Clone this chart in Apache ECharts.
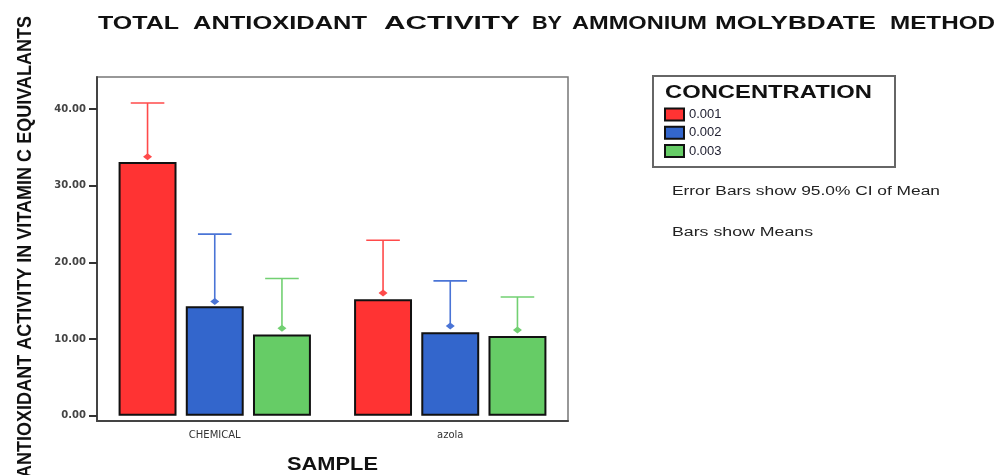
<!DOCTYPE html>
<html>
<head>
<meta charset="utf-8">
<script src="https://cdn.jsdelivr.net/npm/echarts@6/dist/echarts.min.js"></script>
<style>html,body{margin:0;padding:0;background:#fff}#c{width:999px;height:475px}</style>
</head>
<body>
<div id="c"></div>
<script>
// ---- data ----
const categories = ['CHEMICAL', 'azola'];
const concentrations = ['0.001', '0.002', '0.003'];
const barMean001 = [33.1, 15.2];
const barMean002 = [14.3, 10.9];
const barMean003 = [10.6, 10.4];
const meanDot001 = [33.8, 16.0];
const meanDot002 = [14.9, 11.7];
const meanDot003 = [11.4, 11.2];
const ciUpper001 = [40.8, 22.9];
const ciUpper002 = [23.7, 17.6];
const ciUpper003 = [17.9, 15.5];
const yTickValues = [0, 10, 20, 30, 40];
const titleWords = ['TOTAL', 'ANTIOXIDANT', 'ACTIVITY', 'BY', 'AMMONIUM', 'MOLYBDATE', 'METHOD'];
const yAxisTitle = 'ANTIOXIDANT ACTIVITY IN VITAMIN C EQUIVALANTS';
const xAxisTitle = 'SAMPLE';
const legendTitle = 'CONCENTRATION';
const noteLines = ['Error Bars show 95.0% CI of Mean', 'Bars show Means'];

// ---- style ----
const barColors = ['#FF3333', '#3366CC', '#66CC66'];
const errColors = ['#FF4A4A', '#4A74D6', '#72D072'];
const barWidthPct = 0.246;
const barGapPct = 0.16;

const barMeans = [barMean001, barMean002, barMean003];
const meanDots = [meanDot001, meanDot002, meanDot003];
const ciUppers = [ciUpper001, ciUpper002, ciUpper003];

const measureCtx = document.createElement('canvas').getContext('2d');
function fitText(text, font, cx, cy, width, color, rotation) {
  measureCtx.font = font;
  const w = measureCtx.measureText(text).width;
  return {
    type: 'text', x: cx, y: cy, rotation: rotation || 0, scaleX: width / w, silent: true,
    style: { text: text, font: font, fill: color || '#111', align: 'center', verticalAlign: 'middle' }
  };
}

const titleFont = 'bold 19px "Liberation Sans"';
const titleSpans = [[98,179],[193,367],[384,520],[532,562],[572,707],[715,876],[890,995]];
const graphics = [];
titleWords.forEach((w, i) => {
  const s = titleSpans[i];
  graphics.push(fitText(w, titleFont, (s[0] + s[1]) / 2, 24, s[1] - s[0], '#111'));
});
graphics.push(fitText(yAxisTitle, 'bold 21px "Liberation Sans"', 25, 247, 462, '#111', Math.PI / 2));
graphics.push(fitText(xAxisTitle, 'bold 18px "Liberation Sans"', 332.5, 465, 91, '#111'));
graphics.push({ type: 'rect', shape: { x: 653, y: 76, width: 242, height: 91 }, silent: true,
  style: { fill: 'none', stroke: '#666', lineWidth: 2 } });
graphics.push(fitText(legendTitle, 'bold 19px "Liberation Sans"', 768.5, 93, 207, '#111'));
graphics.push(fitText(noteLines[0], '12px "Liberation Sans"', 806, 192, 268, '#222'));
graphics.push(fitText(noteLines[1], '12px "Liberation Sans"', 742.5, 233, 141, '#222'));

const series = [];
concentrations.forEach((name, i) => {
  series.push({
    type: 'bar', name: name, data: barMeans[i],
    barWidth: (barWidthPct * 100) + '%', barGap: (barGapPct * 100) + '%',
    itemStyle: { color: barColors[i], borderColor: '#111', borderWidth: 2 },
    z: 2
  });
});
concentrations.forEach((name, i) => {
  series.push({
    type: 'custom', name: name + ' CI',
    data: categories.map((c, k) => [k, meanDots[i][k], ciUppers[i][k]]),
    z: 5, silent: true,
    renderItem: function (params, api) {
      const cat = api.value(0);
      const top = api.coord([cat, api.value(2)]);
      const dot = api.coord([cat, api.value(1)]);
      const band = api.size([1, 0])[0];
      const bw = band * barWidthPct;
      const gap = bw * barGapPct;
      const x = top[0] + (i - 1) * (bw + gap);
      const half = bw * 0.29;
      const col = errColors[i];
      return {
        type: 'group', children: [
          { type: 'line', shape: { x1: x, y1: dot[1], x2: x, y2: top[1] }, style: { stroke: col, lineWidth: 1.6 } },
          { type: 'line', shape: { x1: x - half, y1: top[1], x2: x + half, y2: top[1] }, style: { stroke: col, lineWidth: 1.6 } },
          { type: 'polygon', shape: { points: [[x - 4.5, dot[1]], [x, dot[1] - 3.5], [x + 4.5, dot[1]], [x, dot[1] + 3.5]] }, style: { fill: col } }
        ]
      };
    }
  });
});

const chart = echarts.init(document.getElementById('c'), null, { renderer: 'canvas' });
chart.setOption({
  animation: false,
  backgroundColor: '#fff',
  grid: { left: 97, right: 431, top: 77, bottom: 54, show: true, borderColor: '#777', borderWidth: 1.5 },
  legend: {
    data: concentrations, orient: 'vertical', left: 664, top: 107.5, padding: 0,
    itemWidth: 19, itemHeight: 12, itemGap: 4.3, icon: 'rect',
    textStyle: { fontFamily: 'Liberation Sans', fontSize: 13, color: '#223', lineHeight: 14 },
    selectedMode: false
  },
  xAxis: {
    type: 'category', data: categories,
    axisLine: { onZero: false, lineStyle: { color: '#444', width: 2 } },
    axisTick: { alignWithLabel: true, length: 7, lineStyle: { color: '#111', width: 3 } },
    axisLabel: { fontFamily: 'DejaVu Sans', fontSize: 10, color: '#333', margin: 9 }
  },
  yAxis: {
    type: 'value', min: -0.69, max: 44.2,
    axisLine: { show: true, lineStyle: { color: '#444', width: 2 } },
    axisTick: { show: true, customValues: yTickValues, length: 8, lineStyle: { color: '#333', width: 2 } },
    axisLabel: { customValues: yTickValues, formatter: v => v.toFixed(2), fontFamily: 'DejaVu Sans', fontWeight: 'bold', fontSize: 10, color: '#444', margin: 11 },
    splitLine: { show: false }
  },
  graphic: graphics,
  series: series
});
</script>
</body>
</html>
